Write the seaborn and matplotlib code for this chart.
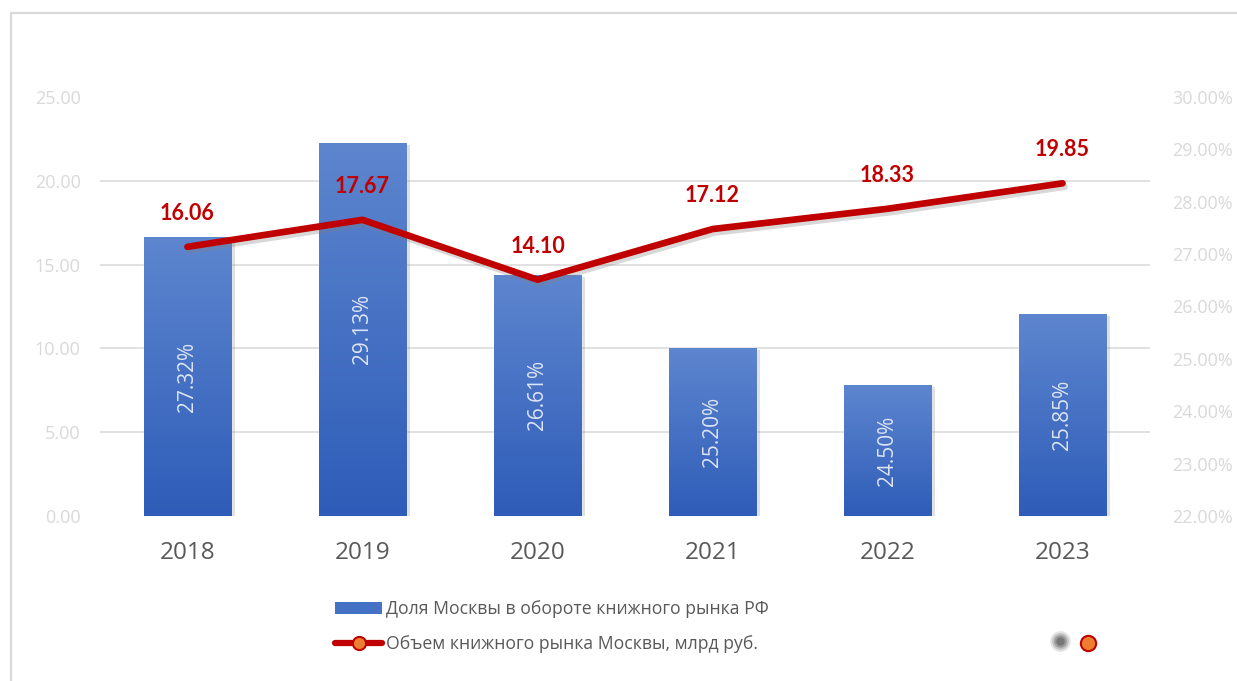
import matplotlib
matplotlib.use('Agg')
import matplotlib.pyplot as plt
import matplotlib.patheffects as pe
from matplotlib.colors import LinearSegmentedColormap
from matplotlib.lines import Line2D
from matplotlib.patches import Patch
from matplotlib.ticker import FixedLocator, FuncFormatter
import numpy as np
import pandas as pd
import seaborn as sns

years = ["2018", "2019", "2020", "2021", "2022", "2023"]
moscow_share = [27.32, 29.13, 26.61, 25.20, 24.50, 25.85]   # % of RF book market
market_volume = [16.06, 17.67, 14.10, 17.12, 18.33, 19.85]  # bln rub

share_label = "Доля Москвы в обороте книжного рынка РФ"
volume_label = "Объем книжного рынка Москвы, млрд руб."

vol_ticks = [0, 5, 10, 15, 20, 25]
share_ticks = [22, 23, 24, 25, 26, 27, 28, 29, 30]

sns.set_style("white")
plt.rcParams['font.family'] = ['Open Sans', 'DejaVu Sans']

RED = "#C00000"
GRID = "#D9D9D9"
TXT = "#595959"

fig = plt.figure(figsize=(12.37, 6.81), dpi=100)
ax = fig.add_axes([0.0808, 0.2423, 0.8489, 0.6153])

df = pd.DataFrame({"year": years, "share": moscow_share})
sns.barplot(data=df, x="year", y="share", color="#4472C4", width=0.5,
            saturation=1, ax=ax, zorder=2)
ax.set_ylim(share_ticks[0], share_ticks[-1])
ax.set_xlim(-0.5, len(years) - 0.5)

# gradient fill on bars
cmap = LinearSegmentedColormap.from_list("bar", ["#2E5CB8", "#5E86CF"])
grad = np.linspace(0, 1, 256).reshape(-1, 1)
for p, v in zip(ax.patches, moscow_share):
    p.set_path_effects([pe.SimplePatchShadow(offset=(2.5, -1.5), alpha=0.25,
                                             shadow_rgbFace="gray"), pe.Normal()])
    x0 = p.get_x()
    im = ax.imshow(grad, cmap=cmap, aspect="auto", origin="lower",
                   extent=[x0, x0 + p.get_width(), share_ticks[0], v], zorder=3)
    im.set_clip_path(p)
    ax.text(x0 + p.get_width() / 2, (share_ticks[0] + v) / 2, f"{v:.2f}%",
            rotation=90, ha="center", va="center", color="#DCE4F4",
            fontsize=15, zorder=4)

# left axis (volume) line
ax2 = ax.twinx()
xs = np.arange(len(years))
sns.lineplot(x=xs, y=market_volume, ax=ax2, color=RED, lw=4.8,
             solid_capstyle="round", solid_joinstyle="round", zorder=5)
ax2.lines[0].set_path_effects([pe.SimpleLineShadow(offset=(1.5, -2.5), alpha=0.3,
                                                   shadow_color="gray"), pe.Normal()])
ax2.set_ylim(vol_ticks[0], vol_ticks[-1])
ax2.set_yticks(vol_ticks)
ax2.yaxis.set_major_formatter(FuncFormatter(lambda v, _: f"{v:.2f}"))
ax2.yaxis.tick_left()
ax2.tick_params(axis="y", length=0, labelsize=13, labelcolor=GRID, pad=14)
ax2.grid(False)
for s in ax2.spines.values():
    s.set_visible(False)
for x, v in zip(xs, market_volume):
    ax2.annotate(f"{v:.2f}", (x, v), xytext=(0, 24), textcoords="offset points",
                 ha="center", va="center", color=RED, fontsize=15.5,
                 fontweight="bold", family=["Lato", "DejaVu Sans"])

# right axis (share) -- set after twinx, which resets tick side
ax.yaxis.tick_right()
ax.set_yticks(share_ticks)
ax.yaxis.set_major_formatter(FuncFormatter(lambda v, _: f"{v:.2f}%"))
# gridlines follow the volume ticks
lo, hi = share_ticks[0], share_ticks[-1]
grid_pos = [lo + t / vol_ticks[-1] * (hi - lo) for t in vol_ticks]
ax.yaxis.set_minor_locator(FixedLocator(grid_pos))
ax.grid(False, which="major")
ax.grid(True, which="minor", axis="y", color=GRID, lw=1.1, zorder=0)
ax.tick_params(axis="y", which="both", length=0, labelsize=13,
               labelcolor=GRID, pad=16)
ax.tick_params(axis="x", length=0, labelsize=17.5, labelcolor=TXT, pad=18)
ax.set_xlabel("")
ax.set_ylabel("")
for s in ax.spines.values():
    s.set_visible(False)

# legend
handles = [
    Patch(facecolor="#4472C4", edgecolor="none"),
    Line2D([], [], color=RED, lw=4.5, marker="o", markersize=9.5,
           markerfacecolor="#ED7D31", markeredgecolor=RED, markeredgewidth=1.5),
]
fig.legend(handles, [share_label, volume_label], loc="center",
           bbox_to_anchor=(0.446, 0.080), frameon=False, fontsize=12.7,
           labelcolor=TXT, handlelength=2.7, handletextpad=0.2,
           labelspacing=0.95)

# stray legend markers at right
for ms, a in [(15, 0.15), (12, 0.25), (9, 0.35), (6, 0.5)]:
    fig.add_artist(Line2D([1060 / 1237], [1 - 641 / 681], transform=fig.transFigure,
                          marker="o", markersize=ms, color="#555555", alpha=a,
                          markeredgewidth=0, linestyle="none"))
fig.add_artist(Line2D([1088 / 1237], [1 - 643 / 681], transform=fig.transFigure,
                      marker="o", markersize=11, markerfacecolor="#ED7D31",
                      markeredgecolor=RED, markeredgewidth=1.5, linestyle="none"))

# outer frame (top and left edges)
fig.add_artist(Line2D([11 / 1237, 11 / 1237, 1.0], [0.0, 1 - 13 / 681, 1 - 13 / 681],
                      transform=fig.transFigure, color=GRID, lw=1.6))

fig.savefig("out.png", dpi=100)
